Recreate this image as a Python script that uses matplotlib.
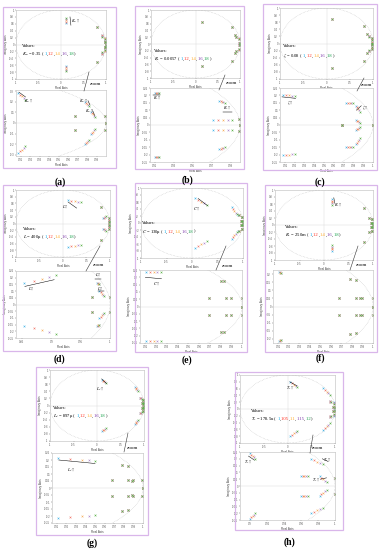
import numpy as np
import matplotlib.pyplot as plt
from matplotlib.patches import Rectangle, Ellipse
from matplotlib.lines import Line2D
from matplotlib.offsetbox import TextArea, HPacker, AnnotationBbox

plt.rcParams['font.family'] = ['Liberation Sans', 'DejaVu Sans']
plt.rcParams['mathtext.fontset'] = 'stix'

W, H = 381, 550

mark_colors = ['#4db8e8', '#f27c6f', '#f5b062', '#b48fd0', '#62b451']
num_colors = ['#00a6e8', '#ff2a1a', '#ffa820', '#7a33a8', '#119e45']

# ---- data: upper-half poles (conjugates are mirrored) ----
# (a) Kp
a_name, a_base, a_factors = r'$K_p$', ' = 0.35 (', ['1', '1.2', '1.4', '1.6', '1.8']
a_move_re = [[0.12, 0.12, 0.12, 0.12, 0.12],
             [0.907, 0.909, 0.911, 0.913, 0.915],
             [0.978, 0.979, 0.980, 0.981, 0.982],
             [0.984, 0.985, 0.986, 0.987, 0.988]]
a_move_im = [[0.62, 0.66, 0.70, 0.74, 0.78],
             [0.28, 0.265, 0.25, 0.235, 0.22],
             [0.20, 0.19, 0.18, 0.17, 0.16],
             [0.10, 0.09, 0.08, 0.07, 0.06]]
a_fix_re = [0.81, 0.967, 0.999, 1.0]
a_fix_im = [0.50, 0.065, 0.065, 0.0]

# (b) Rv
b_name, b_base, b_factors = r'$R_v$', ' = 0.0057 (', ['1', '1.2', '1.4', '1.6', '1.8']
b_move_re = [[0.972, 0.977, 0.982, 0.987, 0.992],
             [0.910, 0.911, 0.912, 0.913, 0.914],
             [0.978, 0.9795, 0.981, 0.9825, 0.984]]
b_move_im = [[0.035, 0.035, 0.035, 0.035, 0.035],
             [0.215, 0.215, 0.215, 0.215, 0.215],
             [0.165, 0.162, 0.158, 0.155, 0.152]]
b_fix_re = [0.14, 0.81, 0.89, 1.0, 0.999]
b_fix_im = [0.66, 0.50, 0.27, 0.0, 0.04]

# (c) zeta
c_name, c_base, c_factors = r'$\zeta$', ' = 0.08 (', ['1', '1.2', '1.4', '1.6', '1.8']
c_move_re = [[0.908, 0.911, 0.914, 0.917, 0.920],
             [0.972, 0.974, 0.976, 0.978, 0.980],
             [0.983, 0.984, 0.985, 0.986, 0.987],
             [0.983, 0.984, 0.985, 0.986, 0.987]]
c_move_im = [[0.205, 0.203, 0.201, 0.199, 0.197],
             [0.15, 0.15, 0.15, 0.15, 0.15],
             [0.13, 0.12, 0.11, 0.10, 0.09],
             [0.035, 0.03, 0.025, 0.02, 0.015]]
c_fix_re = [0.11, 0.81, 0.87, 0.968, 1.0]
c_fix_im = [0.70, 0.50, 0.26, 0.0, 0.0]

# (d) L
d_name, d_base, d_factors = r'$L$', ' = 400μ (', ['1', '1.2', '1.4', '1.6', '1.8']
d_move_re = [[0.11, 0.18, 0.25, 0.32, 0.38],
             [0.853, 0.870, 0.885, 0.897, 0.908],
             [0.978, 0.979, 0.980, 0.981, 0.982],
             [0.982, 0.984, 0.986, 0.988, 0.990]]
d_move_im = [[0.69, 0.685, 0.67, 0.655, 0.64],
             [0.16, 0.175, 0.19, 0.205, 0.22],
             [0.16, 0.158, 0.156, 0.154, 0.152],
             [0.10, 0.09, 0.08, 0.07, 0.06]]
d_fix_re = [0.81, 0.97, 1.0]
d_fix_im = [0.50, 0.055, 0.055]

# (e) C
e_name, e_base, e_factors = r'$C$', ' = 130μ (', ['1', '1.2', '1.4', '1.6', '1.8']
e_move_re = [[0.06, 0.12, 0.18, 0.24, 0.30],
             [0.911, 0.914, 0.918, 0.921, 0.925],
             [0.79, 0.81, 0.83, 0.86, 0.88]]
e_move_im = [[0.71, 0.66, 0.61, 0.56, 0.51],
             [0.236, 0.236, 0.235, 0.234, 0.233],
             [0.45, 0.40, 0.35, 0.30, 0.25]]
e_fix_re = [0.969, 0.980, 0.983, 0.985, 0.990, 1.0, 1.0]
e_fix_im = [0.06, 0.177, 0.177, 0.06, 0.06, 0.06, 0.0]

# (f) Rc
f_name, f_base, f_factors = r'$R_c$', ' = 250m (', ['1', '1.2', '1.4', '1.6', '1.8']
f_move_re = [[0.17, 0.17, 0.17, 0.17, 0.17],
             [0.911, 0.912, 0.912, 0.913, 0.913]]
f_move_im = [[0.74, 0.70, 0.66, 0.62, 0.58],
             [0.212, 0.210, 0.208, 0.206, 0.204]]
f_fix_re = [0.81, 0.968, 0.978, 0.984, 0.984, 0.988, 0.99, 1.0, 1.0]
f_fix_im = [0.49, 0.05, 0.17, 0.165, 0.05, 0.05, 0.05, 0.05, 0.0]

# (g) Lg
g_name, g_base, g_factors = r'$L_g$', ' = 897μ (', ['1', '1.2', '1.4', '1.6', '1.8']
g_move_re = [[0.10, 0.12, 0.15, 0.17, 0.20],
             [0.911, 0.924, 0.936, 0.944, 0.950],
             [0.80, 0.82, 0.84, 0.86, 0.88]]
g_move_im = [[0.72, 0.70, 0.68, 0.66, 0.64],
             [0.216, 0.210, 0.203, 0.198, 0.193],
             [0.52, 0.49, 0.46, 0.43, 0.40]]
g_fix_re = [0.968, 0.978, 0.984, 0.984, 0.988, 0.99, 0.999, 1.0]
g_fix_im = [0.06, 0.166, 0.154, 0.06, 0.052, 0.06, 0.06, 0.0]

# (h) Tr
h_name, h_base, h_factors = r'$T_r$', ' = 178.5u (', ['1', '1.05', '1.1', '1.15', '1.2']
h_move_re = [[0.05, 0.09, 0.13, 0.17, 0.21],
             [0.75, 0.79, 0.83, 0.86, 0.90],
             [0.900, 0.9015, 0.903, 0.9045, 0.906],
             [0.972, 0.975, 0.979, 0.982, 0.986],
             [0.960, 0.962, 0.964, 0.966, 0.968],
             [0.982, 0.984, 0.986, 0.988, 0.990]]
h_move_im = [[0.79, 0.76, 0.72, 0.69, 0.65],
             [0.62, 0.57, 0.51, 0.46, 0.41],
             [0.24, 0.23, 0.22, 0.21, 0.20],
             [0.20, 0.19, 0.18, 0.17, 0.16],
             [0.07, 0.07, 0.07, 0.07, 0.07],
             [0.07, 0.06, 0.05, 0.04, 0.03]]
h_fix_re = [1.0]
h_fix_im = [0.06]

fig = plt.figure(figsize=(W / 100, H / 100), dpi=100)


def px_axes(x0, y0, x1, y1):
    return fig.add_axes([x0 / W, 1 - y1 / H, (x1 - x0) / W, (y1 - y0) / H])


def fx(x):
    return x / W


def fy(y):
    return 1 - y / H


def style(ax, xlim, ylim, xt, yt):
    ax.set_xlim(*xlim)
    ax.set_ylim(*ylim)
    ax.set_xticks(xt)
    ax.set_yticks(yt)
    ax.set_xticklabels([f'{v:g}' for v in xt])
    ax.set_yticklabels([f'{v:g}' for v in yt])
    ax.tick_params(labelsize=1.9, length=0.8, width=0.3, pad=0.6, colors='#555555')
    for s in ax.spines.values():
        s.set_color('#bbbbbb')
        s.set_linewidth(0.4)
    ax.set_xlabel('Real Axis', fontsize=2.2, labelpad=0.8, color='#444444')
    ax.set_ylabel('Imaginary Axis', fontsize=2.2, labelpad=0.8, color='#444444')
    ax.axhline(0, color='#d5d5d5', lw=0.3, zorder=0)
    ax.axvline(0, color='#d5d5d5', lw=0.3, zorder=0)
    ax.add_patch(Ellipse((0, 0), 2, 2, fill=False, ls=':', lw=0.4, ec='#bdbdbd', zorder=0))


def plot_poles(ax, move_re, move_im, fix_re, fix_im, ms):
    for k in range(5):
        re = [g[k] for g in move_re] + list(fix_re)
        im = [g[k] for g in move_im] + list(fix_im)
        re = np.array(re + re)
        im = np.array(im + [-v for v in im])
        ax.plot(re, im, ls='none', marker='x', ms=ms, mew=0.4, color=mark_colors[k])


def values_text(ax, x, y, name, base, factors):
    fs = 3.3
    tp = dict(fontsize=fs, family='Liberation Serif')
    ax.text(x, y, 'Values:', **tp)
    boxes = [TextArea(name + base, textprops=dict(color='black', **tp))]
    for i, f in enumerate(factors):
        boxes.append(TextArea(f, textprops=dict(color=num_colors[i], **tp)))
        if i < 4:
            boxes.append(TextArea(',', textprops=dict(color='black', **tp)))
    boxes.append(TextArea(')', textprops=dict(color='black', **tp)))
    pack = HPacker(children=boxes, align='baseline', pad=0, sep=0)
    ab = AnnotationBbox(pack, (x, y - 0.1), xycoords='data', box_alignment=(0, 1),
                        frameon=False, pad=0)
    ax.add_artist(ab)


def note(ax, label, txy, l0, l1):
    ax.text(txy[0], txy[1], label + r'$\uparrow$', fontsize=3.0, family='Liberation Serif',
            ha='center', va='center')
    ax.plot([l0[0], l1[0]], [l0[1], l1[1]], color='black', lw=0.35)


panels = [
    dict(tag='(a)', border=(3, 7, 116, 168), up=(16, 10, 106, 79), lo=(16, 90, 106, 156),
         cap=(60, 182), zl=(89, 72, 84, 91), zt=(90, 84), vxy=(-0.87, -0.07),
         data=(a_name, a_base, a_factors, a_move_re, a_move_im, a_fix_re, a_fix_im),
         lox=(0.905, 1.0), lxt=[0.91, 0.92, 0.93, 0.94, 0.95, 0.96, 0.97, 0.98, 0.99],
         loy=(-0.31, 0.31), lyt=[-0.3, -0.2, -0.1, 0, 0.1, 0.2, 0.3],
         up_notes=[(r'$K_p$', (0.32, 0.69), (0.2, 0.8), (0.22, 0.56))],
         lo_notes=[(r'$K_p$', (0.918, 0.215), (0.908, 0.29), (0.915, 0.245)),
                   (r'$K_p$', (0.976, 0.215), (0.981, 0.21), (0.983, 0.17)),
                   (r'$K_p$', (0.982, 0.12), (0.986, 0.115), (0.988, 0.07))]),
    dict(tag='(b)', border=(135, 6, 244, 169), up=(151, 10, 240, 78), lo=(150, 88, 240, 162),
         cap=(187, 180), zl=(225, 75, 219, 90), zt=(226, 83), vxy=(-0.94, -0.23),
         data=(b_name, b_base, b_factors, b_move_re, b_move_im, b_fix_re, b_fix_im),
         lox=(0.905, 1.0), lxt=[0.91, 0.93, 0.95, 0.97, 0.99],
         loy=(-0.25, 0.25), lyt=[-0.25, -0.2, -0.15, -0.1, -0.05, 0, 0.05, 0.1, 0.15, 0.2, 0.25],
         up_notes=[],
         lo_notes=[(r'$R_v$', (0.913, 0.18), (0.908, 0.205), (0.916, 0.205)),
                   (r'$R_v$', (0.987, 0.11), (0.982, 0.09), (0.992, 0.09))]),
    dict(tag='(c)', border=(263, 4, 377, 170), up=(280, 8, 373, 79), lo=(280, 88, 373, 162),
         cap=(320, 182), zl=(364, 78, 357, 91), zt=(361, 85), vxy=(-0.93, -0.1),
         data=(c_name, c_base, c_factors, c_move_re, c_move_im, c_fix_re, c_fix_im),
         lox=(0.905, 1.0), lxt=[0.91, 0.92, 0.93, 0.94, 0.95, 0.96, 0.97, 0.98, 0.99, 1],
         loy=(-0.25, 0.25), lyt=[-0.25, -0.2, -0.15, -0.1, -0.05, 0, 0.05, 0.1, 0.15, 0.2, 0.25],
         up_notes=[],
         lo_notes=[(r'$\zeta$', (0.915, 0.15), (0.907, 0.19), (0.921, 0.18)),
                   (r'$\zeta$', (0.992, 0.12), (0.988, 0.13), (0.983, 0.10))]),
    dict(tag='(d)', border=(3, 185, 116, 351), up=(16, 190, 110, 257), lo=(16, 271, 110, 338),
         cap=(59, 359), zl=(100, 246, 86, 271), zt=(93, 265), vxy=(-0.85, -0.18),
         data=(d_name, d_base, d_factors, d_move_re, d_move_im, d_fix_re, d_fix_im),
         lox=(0.84, 1.0), lxt=[0.85, 0.9, 0.95, 1],
         loy=(-0.25, 0.25), lyt=[-0.25, -0.2, -0.15, -0.1, -0.05, 0, 0.05, 0.1, 0.15, 0.2, 0.25],
         up_notes=[(r'$L$', (0.04, 0.5), (0.11, 0.64), (0.29, 0.46))],
         lo_notes=[(r'$L$', (0.867, 0.116), (0.855, 0.135), (0.905, 0.185)),
                   (r'$L$', (0.98, 0.22), (0.975, 0.19), (0.985, 0.19)),
                   (r'$L$', (0.984, 0.12), (0.98, 0.10), (0.99, 0.10))]),
    dict(tag='(e)', border=(135, 183, 247, 352), up=(141, 188, 243, 258), lo=(140, 270, 242, 343),
         cap=(187, 360), zl=(226, 246, 216, 270), zt=(222, 266), vxy=(-0.98, -0.03),
         data=(e_name, e_base, e_factors, e_move_re, e_move_im, e_fix_re, e_fix_im),
         lox=(0.905, 1.0), lxt=[0.91, 0.92, 0.93, 0.94, 0.95, 0.96, 0.97, 0.98, 0.99, 1],
         loy=(-0.25, 0.25), lyt=[-0.25, -0.2, -0.15, -0.1, -0.05, 0, 0.05, 0.1, 0.15, 0.2, 0.25],
         up_notes=[(r'$C$', (0.09, 0.42), (0.12, 0.7), (0.3, 0.5))],
         lo_notes=[(r'$C$', (0.92, 0.155), (0.91, 0.2), (0.925, 0.19))]),
    dict(tag='(f)', border=(265, 185, 377, 352), up=(275, 190, 373, 260), lo=(273, 270, 373, 343),
         cap=(320, 358), zl=(358, 246, 350, 270), zt=(356, 265), vxy=(-0.8, -0.08),
         data=(f_name, f_base, f_factors, f_move_re, f_move_im, f_fix_re, f_fix_im),
         lox=(0.905, 1.0), lxt=[0.91, 0.92, 0.93, 0.94, 0.95, 0.96, 0.97, 0.98, 0.99, 1],
         loy=(-0.225, 0.225), lyt=[-0.2, -0.15, -0.1, -0.05, 0, 0.05, 0.1, 0.15, 0.2],
         up_notes=[(r'$R_c$', (0.29, 0.57), (0.2, 0.78), (0.22, 0.62))],
         lo_notes=[]),
    dict(tag='(g)', border=(36, 367, 148, 535), up=(50, 370, 144, 441), lo=(52, 453, 143, 523),
         cap=(92, 543), zl=(128, 433, 124, 452), zt=(127, 448), vxy=(-0.94, -0.1),
         data=(g_name, g_base, g_factors, g_move_re, g_move_im, g_fix_re, g_fix_im),
         lox=(0.905, 1.0), lxt=[0.91, 0.92, 0.93, 0.94, 0.95, 0.96, 0.97, 0.98, 0.99, 1],
         loy=(-0.25, 0.25), lyt=[-0.25, -0.2, -0.15, -0.1, -0.05, 0, 0.05, 0.1, 0.15, 0.2, 0.25],
         up_notes=[(r'$L_g$', (0.06, 0.49), (0.1, 0.75), (0.2, 0.62))],
         lo_notes=[(r'$L_g$', (0.925, 0.135), (0.912, 0.2), (0.95, 0.175))]),
    dict(tag='(h)', border=(235, 372, 343, 530), up=(240, 375, 335, 443), lo=(240, 452, 335, 520),
         cap=(289, 542), zl=(313, 435, 310, 453), zt=(312, 448), vxy=(-0.77, -0.09),
         data=(h_name, h_base, h_factors, h_move_re, h_move_im, h_fix_re, h_fix_im),
         lox=(0.888, 1.0), lxt=[0.9, 0.92, 0.94, 0.96, 0.98, 1],
         loy=(-0.25, 0.25), lyt=[-0.25, -0.2, -0.15, -0.1, -0.05, 0, 0.05, 0.1, 0.15, 0.2, 0.25],
         up_notes=[(r'$T_r$', (0.05, 0.62), (0.05, 0.8), (0.2, 0.68))],
         lo_notes=[(r'$T_r$', (0.897, 0.17), (0.898, 0.22), (0.905, 0.19)),
                   (r'$T_r$', (0.99, 0.19), (0.985, 0.2), (0.992, 0.18)),
                   (r'$T_r$', (0.978, 0.04), (0.983, 0.05), (0.99, 0.06))]),
]

for p in panels:
    bx0, by0, bx1, by1 = p['border']
    fig.add_artist(Rectangle((fx(bx0), fy(by1)), fx(bx1 - bx0), (by1 - by0) / H,
                             transform=fig.transFigure, fill=False, ec='#d9b6ea', lw=0.9))
    name, base, factors, mre, mim, fre, fim = p['data']

    up = px_axes(*p['up'])
    style(up, (-1, 1), (-1, 1), [-1, -0.5, 0, 0.5, 1],
          [-1, -0.8, -0.6, -0.4, -0.2, 0, 0.2, 0.4, 0.6, 0.8, 1])
    plot_poles(up, mre, mim, fre, fim, 1.3)
    values_text(up, p['vxy'][0], p['vxy'][1], name, base, factors)
    for lab, txy, l0, l1 in p['up_notes']:
        note(up, lab, txy, l0, l1)

    lo = px_axes(*p['lo'])
    style(lo, p['lox'], p['loy'], p['lxt'], p['lyt'])
    plot_poles(lo, mre, mim, fre, fim, 1.3)
    for lab, txy, l0, l1 in p['lo_notes']:
        note(lo, lab, txy, l0, l1)

    zx0, zy0, zx1, zy1 = p['zl']
    fig.add_artist(Line2D([fx(zx0), fx(zx1)], [fy(zy0), fy(zy1)], color='#333333', lw=0.4))
    fig.text(fx(p['zt'][0]), fy(p['zt'][1]), 'zoom', fontsize=3.6, family='Liberation Serif',
             va='center')
    fig.text(fx(p['cap'][0]), fy(p['cap'][1]), p['tag'], fontsize=7, family='Liberation Serif',
             fontweight='bold', ha='center', va='center')

fig.savefig('out.png', dpi=100)
